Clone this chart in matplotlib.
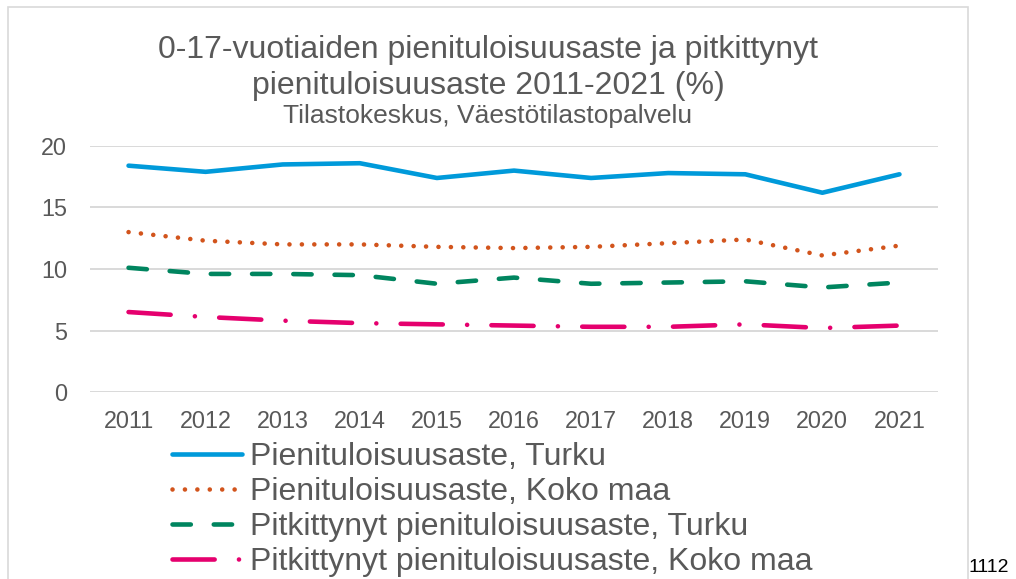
import numpy as np
import matplotlib.pyplot as plt
from matplotlib.patches import Rectangle

# Data
years = ['2011', '2012', '2013', '2014', '2015', '2016', '2017', '2018', '2019', '2020', '2021']
turku = [18.4, 17.9, 18.5, 18.6, 17.4, 18.0, 17.4, 17.8, 17.7, 16.2, 17.7]
koko_maa = [13.0, 12.3, 12.0, 12.0, 11.8, 11.7, 11.8, 12.1, 12.4, 11.1, 11.9]
pitk_turku = [10.1, 9.6, 9.6, 9.5, 8.8, 9.3, 8.8, 8.9, 9.0, 8.5, 8.9]
pitk_koko_maa = [6.5, 6.1, 5.8, 5.6, 5.5, 5.4, 5.3, 5.3, 5.5, 5.2, 5.4]

labels = ['Pienituloisuusaste, Turku',
          'Pienituloisuusaste, Koko maa',
          'Pitkittynyt pienituloisuusaste, Turku',
          'Pitkittynyt pienituloisuusaste, Koko maa']

plt.rcParams['font.family'] = ['Liberation Sans', 'DejaVu Sans']
grey = '#595959'

fig = plt.figure(figsize=(10.16, 5.79), dpi=100)
ax = fig.add_axes([90 / 1016, 1 - 392 / 579, 848 / 1016, 246 / 579])

x = np.arange(len(years))
lw = 3.3
ax.plot(x, turku, color='#009ADA', lw=lw, solid_capstyle='round',
        solid_joinstyle='round', label=labels[0])
ax.plot(x, koko_maa, color='#D2541C', lw=lw, linestyle=(0, (0.01, 2.7)),
        dash_capstyle='round', label=labels[1])
ax.plot(x, pitk_turku, color='#00855F', lw=lw, linestyle=(0, (4.0, 5.0)),
        dash_capstyle='round', label=labels[2])
ax.plot(x, pitk_koko_maa, color='#E5006E', lw=lw, linestyle=(0, (9.2, 5.3, 0.01, 5.3)),
        dash_capstyle='round', label=labels[3])

ax.set_xlim(-0.5, len(years) - 0.5)
ax.set_ylim(0, 20)
ax.set_yticks([0, 5, 10, 15, 20])
ax.set_xticks(x)
ax.set_xticklabels(years)
ax.grid(axis='y', color='#D9D9D9', lw=1.4)
ax.set_axisbelow(True)
for s in ax.spines.values():
    s.set_visible(False)
ax.tick_params(axis='both', length=0, labelsize=16.8, colors=grey)
ax.tick_params(axis='y', pad=16.5)
ax.tick_params(axis='x', pad=13)

# chart border
fig.patches.append(Rectangle((8 / 1016, -0.1), 960 / 1016, 1.1 - 7 / 579,
                             transform=fig.transFigure, fill=False,
                             edgecolor='#D9D9D9', lw=1.2))

# titles
cx = 488 / 1016
fig.text(cx, 1 - 58 / 579, '0-17-vuotiaiden pienituloisuusaste ja pitkittynyt',
         ha='center', va='baseline', fontsize=23, color=grey)
fig.text(cx, 1 - 94 / 579, 'pienituloisuusaste 2011-2021 (%)',
         ha='center', va='baseline', fontsize=23, color=grey)
fig.text(cx, 1 - 123 / 579, 'Tilastokeskus, Väestötilastopalvelu',
         ha='center', va='baseline', fontsize=19, color=grey)

leg = fig.legend(loc='upper left', bbox_to_anchor=(172 / 1016, 1 - 442 / 579),
                 frameon=False, fontsize=23, handlelength=2.2, handletextpad=0.25,
                 labelspacing=0.16, borderpad=0, borderaxespad=0)
for t in leg.get_texts():
    t.set_color(grey)

fig.text(968 / 1016, 1 - 572 / 579, '1112', ha='left', va='baseline',
         fontsize=14, color='black')

fig.savefig('out.png', dpi=100)
